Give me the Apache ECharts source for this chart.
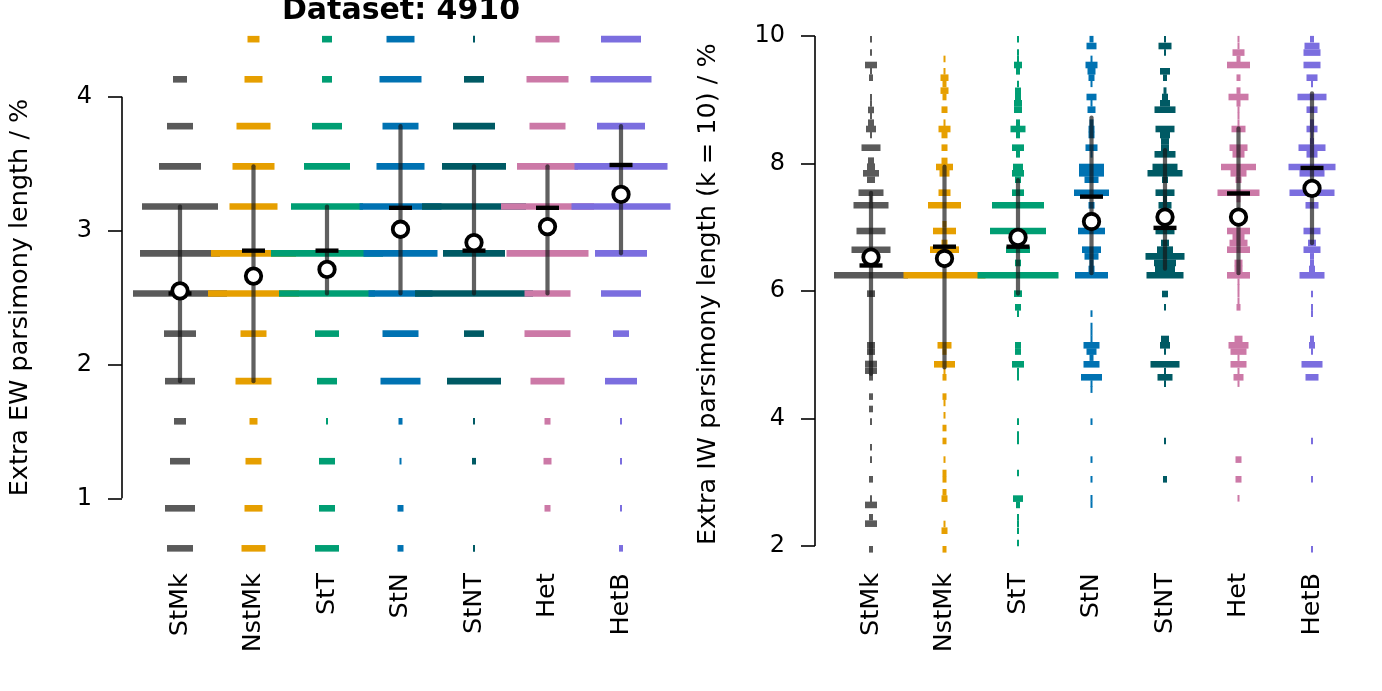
<!DOCTYPE html>
<html><head><meta charset="utf-8">
<script src="https://cdn.jsdelivr.net/npm/echarts@6/dist/echarts.min.js"></script>
<style>html,body{margin:0;padding:0;background:#fff}#c{width:1382px;height:691px}</style>
</head><body><div id="c"></div>
<script>
// ---------------- DATA ----------------
const TITLE = 'Dataset: 4910';
const CATEGORIES = ['StMk', 'NstMk', 'StT', 'StN', 'StNT', 'Het', 'HetB'];
const EW_Y_TITLE = 'Extra EW parsimony length / %';
const IW_Y_TITLE = 'Extra IW parsimony length (k = 10) / %';
const EW_TICKS = [1, 2, 3, 4];
const IW_TICKS = [2, 4, 6, 8, 10];

// EW: discrete levels (%) and tree frequency at each level, per method
const EW_LEVELS = [4.43, 4.13, 3.78, 3.48, 3.18, 2.83, 2.53, 2.23, 1.875, 1.575, 1.277, 0.925, 0.626];
const EW_FREQ_StMk  = [0, 14, 26, 42, 76, 80, 94, 32, 30, 12, 20, 30, 26];
const EW_FREQ_NstMk = [12, 18, 34, 42, 48, 85, 91, 26, 36, 8, 16, 18, 24];
const EW_FREQ_StT   = [10, 10, 30, 46, 72, 112, 96, 24, 20, 2, 16, 16, 24];
const EW_FREQ_StN   = [28, 42, 36, 48, 82, 74, 64, 36, 40, 4, 2, 6, 6];
const EW_FREQ_StNT  = [2, 20, 42, 64, 104, 62, 118, 20, 54, 2, 4, 0, 2];
const EW_FREQ_Het   = [24, 42, 36, 61, 93, 82, 46, 46, 34, 6, 8, 6, 0];
const EW_FREQ_HetB  = [40, 61, 48, 93, 99, 52, 40, 16, 32, 2, 2, 2, 4];
const EW_LOW    = [1.875, 1.875, 2.53, 2.53, 2.53, 2.53, 2.83];
const EW_HIGH   = [3.18, 3.48, 3.18, 3.78, 3.48, 3.48, 3.78];
const EW_MEDIAN = [2.53, 2.85, 2.85, 3.17, 2.85, 3.17, 3.49];
const EW_MEAN   = [2.55, 2.66, 2.71, 3.01, 2.91, 3.03, 3.27];

// IW: [value %, frequency] per method
const IW_StMk = [[9.95,2],[9.74,2],[9.545,12],[9.446,2],[9.346,4],[9.04,2],[8.94,2],[8.84,6],[8.745,2],[8.64,6],[8.541,10],[8.447,2],[8.248,19],[8.044,6],[7.95,8],[7.846,16],[7.746,8],[7.542,25],[7.443,2],[7.344,35],[6.941,29],[6.648,39],[6.246,74],[5.958,8],[5.148,8],[5.049,8],[4.855,12],[4.75,12],[4.646,4],[4.343,4],[4.149,4],[3.95,2],[3.548,2],[3.355,2],[3.046,4],[2.743,2],[2.644,12],[2.45,4],[2.35,12],[1.948,4]];
const IW_NstMk = [[9.64,2],[9.446,2],[9.346,8],[9.247,4],[9.143,8],[9.043,4],[8.844,6],[8.64,2],[8.541,12],[8.447,6],[8.248,6],[8.04,6],[7.945,17],[7.846,10],[7.542,12],[7.344,33],[7.046,4],[6.941,23],[6.753,6],[6.648,29],[6.246,82],[5.148,14],[5.05,4],[4.85,21],[4.75,2],[4.646,4],[4.343,4],[4.244,2],[4.05,2],[3.85,4],[3.647,4],[3.355,2],[3.145,4],[3.046,4],[2.842,4],[2.743,6],[2.345,2],[2.24,6],[1.948,4]];
const IW_StT = [[9.95,2],[9.74,2],[9.64,2],[9.545,8],[9.446,4],[9.247,2],[9.14,6],[9.04,6],[8.944,8],[8.844,8],[8.64,4],[8.541,15],[8.447,4],[8.248,12],[8.144,4],[7.945,10],[7.846,12],[7.746,6],[7.542,12],[7.344,52],[6.941,56],[6.648,24],[6.44,6],[6.246,81],[5.958,8],[5.744,6],[5.645,2],[5.148,6],[5.05,6],[4.85,12],[4.745,2],[4.646,2],[3.95,2],[3.747,2],[3.647,2],[3.145,2],[2.743,10],[2.644,4],[2.45,2],[2.35,2],[2.24,2],[2.047,2]];
const IW_StN = [[9.95,4],[9.843,10],[9.64,2],[9.545,12],[9.446,8],[9.346,6],[9.25,2],[9.043,10],[8.944,2],[8.844,8],[8.64,4],[8.541,6],[8.447,6],[8.248,12],[8.144,2],[7.945,25],[7.846,25],[7.746,14],[7.542,35],[7.344,6],[6.941,27],[6.648,19],[6.543,14],[6.44,4],[6.345,6],[6.246,33],[5.645,2],[5.45,2],[5.35,2],[5.25,2],[5.148,16],[5.05,10],[4.955,4],[4.85,16],[4.646,21],[4.547,2],[4.453,2],[3.95,2],[3.355,2],[3.046,2],[2.748,2],[2.649,2]];
const IW_StNT = [[9.95,2],[9.843,13],[9.74,2],[9.446,10],[9.346,4],[9.143,3],[9.043,6],[8.944,10],[8.844,21],[8.541,19],[8.447,10],[8.347,8],[8.248,8],[8.144,21],[7.945,25],[7.846,35],[7.746,6],[7.542,19],[7.443,4],[7.344,13],[6.941,19],[6.753,8],[6.648,16],[6.543,39],[6.44,22],[6.345,20],[6.246,37],[5.953,6],[5.744,2],[5.247,8],[5.148,10],[5.05,2],[4.85,29],[4.745,2],[4.646,15],[4.547,2],[3.647,2],[3.046,4]];
const IW_Het = [[9.95,2],[9.843,2],[9.74,12],[9.64,4],[9.545,23],[9.346,4],[9.143,4],[9.043,20],[8.944,4],[8.844,2],[8.745,2],[8.64,2],[8.541,14],[8.248,18],[8.144,12],[7.945,35],[7.846,16],[7.746,6],[7.542,42],[7.443,4],[6.941,23],[6.847,12],[6.753,18],[6.648,23],[6.44,8],[6.345,8],[6.246,23],[6.146,2],[6.052,2],[5.95,2],[5.843,2],[5.744,4],[5.247,8],[5.148,20],[5.05,16],[4.955,2],[4.85,16],[4.745,2],[4.646,10],[4.547,2],[3.355,6],[3.046,6],[2.748,2]];
const IW_HetB = [[9.95,4],[9.843,15],[9.74,17],[9.545,17],[9.346,11],[9.247,2],[9.043,29],[8.844,11],[8.64,4],[8.541,11],[8.447,2],[8.347,4],[8.248,27],[8.144,11],[7.945,47],[7.846,25],[7.542,45],[7.344,13],[6.941,17],[6.753,8],[6.648,17],[6.543,4],[6.44,4],[6.345,6],[6.246,25],[5.953,2],[5.744,2],[5.645,2],[5.247,4],[5.148,6],[5.05,2],[4.85,21],[4.646,13],[3.647,2],[3.046,2],[1.948,2]];
const IW_LOW    = [4.7, 4.8, 5.96, 6.28, 6.35, 6.28, 6.75];
const IW_HIGH   = [7.54, 7.95, 7.74, 8.72, 8.21, 8.55, 9.10];
const IW_MEDIAN = [6.40, 6.695, 6.695, 7.48, 6.99, 7.53, 7.93];
const IW_MEAN   = [6.53, 6.51, 6.84, 7.09, 7.16, 7.16, 7.61];

// ---------------- STYLE / LAYOUT ----------------
const COLORS = ['#5a5a5a', '#e69f00', '#009e73', '#0072b2', '#005a64', '#cc79a7', '#7b6edf'];
const FONT = 'DejaVu Sans';
const BAR_H = 6.6;
const FREQ_PER_BAND = 73.5;
const AXIS_OFFSET = [21.25, 19.25];

const EW_FREQ = [EW_FREQ_StMk, EW_FREQ_NstMk, EW_FREQ_StT, EW_FREQ_StN, EW_FREQ_StNT, EW_FREQ_Het, EW_FREQ_HetB];
const IW_DIST = [IW_StMk, IW_NstMk, IW_StT, IW_StN, IW_StNT, IW_Het, IW_HetB];

function barSeries(g, ci, pairs) {
  return {
    type: 'custom', xAxisIndex: g, yAxisIndex: g, silent: true,
    data: pairs.filter(p => p[1] > 0).map(p => [ci, p[0], p[1]]),
    renderItem(params, api) {
      const c = api.coord([api.value(0), api.value(1)]);
      const band = api.size([1, 0])[0];
      const w = api.value(2) * band / FREQ_PER_BAND;
      return { type: 'rect', shape: { x: c[0] - w / 2, y: c[1] - BAR_H / 2, width: w, height: BAR_H },
               style: { fill: COLORS[ci] } };
    }
  };
}
function whiskerSeries(g, lo, hi) {
  return {
    type: 'custom', xAxisIndex: g, yAxisIndex: g, silent: true,
    data: lo.map((v, i) => [i, v, hi[i]]),
    renderItem(params, api) {
      const a = api.coord([api.value(0), api.value(1)]);
      const b = api.coord([api.value(0), api.value(2)]);
      return { type: 'line', shape: { x1: a[0], y1: a[1], x2: b[0], y2: b[1] },
               style: { stroke: 'rgba(20,20,20,0.68)', lineWidth: 4.2, lineCap: 'round' } };
    }
  };
}
function medianSeries(g, med) {
  return {
    type: 'custom', xAxisIndex: g, yAxisIndex: g, silent: true,
    data: med.map((v, i) => [i, v]),
    renderItem(params, api) {
      const c = api.coord([api.value(0), api.value(1)]);
      return { type: 'rect', shape: { x: c[0] - 11.5, y: c[1] - 2.2, width: 23, height: 4.4 }, style: { fill: '#000' } };
    }
  };
}
function meanSeries(g, mean) {
  return {
    type: 'scatter', xAxisIndex: g, yAxisIndex: g, silent: true,
    data: mean.map((v, i) => [i, v]),
    symbol: 'circle', symbolSize: 15.5,
    itemStyle: { color: '#fff', borderColor: '#000', borderWidth: 3.8, opacity: 1 }
  };
}
function axisLineSeries(g, ticks) {
  return {
    type: 'custom', xAxisIndex: g, yAxisIndex: g, silent: true,
    data: [[0, ticks[0], ticks[ticks.length - 1]]],
    renderItem(params, api) {
      const a = api.coord([0, api.value(1)]);
      const b = api.coord([0, api.value(2)]);
      const x = params.coordSys.x - AXIS_OFFSET[g];
      return { type: 'line', shape: { x1: x, y1: a[1], x2: x, y2: b[1] },
               style: { stroke: '#000', lineWidth: 1.6 } };
    }
  };
}
function xAxis(g) {
  return {
    gridIndex: g, type: 'category', data: CATEGORIES, boundaryGap: true,
    axisLine: { show: false }, axisTick: { show: false }, splitLine: { show: false },
    axisLabel: { rotate: 90, fontSize: 25.5, margin: 8, color: '#000', fontFamily: FONT, interval: 0 }
  };
}
function yAxis(g, min, max, ticks, name, gap) {
  return {
    gridIndex: g, type: 'value', min: min, max: max, offset: AXIS_OFFSET[g],
    axisLine: { show: false }, splitLine: { show: false },
    axisTick: { show: true, length: 14, customValues: ticks, lineStyle: { color: '#000', width: 1.6 } },
    axisLabel: { customValues: ticks, fontSize: 24, margin: 30, color: '#000', fontFamily: FONT },
    name: name, nameLocation: 'middle', nameGap: gap,
    nameTextStyle: { fontSize: 25.5, color: '#000', fontFamily: FONT }
  };
}

const series = [];
EW_FREQ.forEach((f, ci) => series.push(barSeries(0, ci, EW_LEVELS.map((lv, k) => [lv, f[k]]))));
IW_DIST.forEach((d, ci) => series.push(barSeries(1, ci, d)));
series.push(axisLineSeries(0, EW_TICKS), axisLineSeries(1, IW_TICKS));
series.push(whiskerSeries(0, EW_LOW, EW_HIGH), whiskerSeries(1, IW_LOW, IW_HIGH));
series.push(medianSeries(0, EW_MEDIAN), medianSeries(1, IW_MEDIAN));
series.push(meanSeries(0, EW_MEAN), meanSeries(1, IW_MEAN));

const chart = echarts.init(document.getElementById('c'), null, { renderer: 'canvas' });
chart.setOption({
  animation: false,
  backgroundColor: '#fff',
  textStyle: { fontFamily: FONT },
  grid: [
    { left: 143.25, width: 514.5, top: 29.8, height: 535.4 },
    { left: 834.25, width: 514.5, top: 23.25, height: 541.85 }
  ],
  xAxis: [xAxis(0), xAxis(1)],
  yAxis: [
    yAxis(0, 0.5, 4.5, EW_TICKS, EW_Y_TITLE, 89),
    yAxis(1, 1.7, 10.2, IW_TICKS, IW_Y_TITLE, 94)
  ],
  graphic: [{
    type: 'text', x: 401, y: 11,
    style: { text: TITLE, font: 'bold 30px "DejaVu Sans"', fill: '#000', align: 'center', verticalAlign: 'middle', textAlign: 'center', textVerticalAlign: 'middle' }
  }],
  series: series
});
</script></body></html>
